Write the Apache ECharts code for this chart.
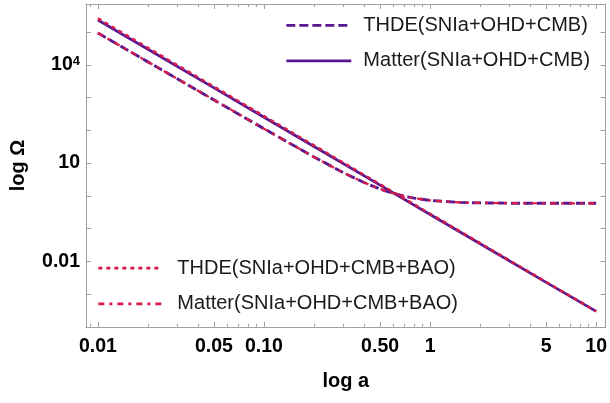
<!DOCTYPE html>
<html><head><meta charset="utf-8">
<script src="https://cdn.jsdelivr.net/npm/echarts@6/dist/echarts.min.js"></script>
<style>html,body{margin:0;padding:0;background:#fff}#c{width:610px;height:403px}</style>
</head><body><div id="c"></div>
<script>
// ---- data ----
const aUpper = [0.01, 0.02, 0.05, 0.1, 0.2, 0.5, 1, 2, 5, 10];
const matterCMB = [234000, 29900, 1970, 251, 32.1, 2.11, 0.269, 0.0344, 0.00228, 0.000295];
const thdeBAO   = [262000, 33000, 2150, 272, 34.5, 2.24, 0.283, 0.0358, 0.00233, 0.000298];
const aLower = [0.01, 0.02, 0.05, 0.1, 0.15, 0.2, 0.3, 0.4, 0.5, 0.6, 0.7, 0.8, 1, 1.5, 2, 3, 5, 10];
const thdeCMB   = [93300, 12300, 850, 112, 34.9, 15.4, 5.1, 2.55, 1.61, 1.19, 0.97, 0.85, 0.725, 0.63, 0.608, 0.596, 0.591, 0.59];
const matterBAO = [93300, 12300, 850, 112, 34.9, 15.4, 5.1, 2.55, 1.61, 1.19, 0.97, 0.85, 0.725, 0.63, 0.608, 0.596, 0.591, 0.59];

const seriesNames = ['THDE(SNIa+OHD+CMB)', 'Matter(SNIa+OHD+CMB)', 'THDE(SNIa+OHD+CMB+BAO)', 'Matter(SNIa+OHD+CMB+BAO)'];

const xMajorTicks = [0.01, 0.05, 0.1, 0.5, 1, 5, 10];
const xMajorLabels = ['0.01', '0.05', '0.10', '0.50', '1', '5', '10'];
const xMinorTicks = [0.009, 0.02, 0.03, 0.04, 0.06, 0.07, 0.08, 0.09, 0.2, 0.3, 0.4, 0.6, 0.7, 0.8, 0.9, 2, 3, 4, 6, 7, 8, 9];
const yTicks = [1e-4, 1e-3, 1e-2, 1e-1, 1, 10, 100, 1e3, 1e4, 1e5];
const yLabelTicks = [0.01, 10, 1e4];
const yLabelText = ['0.01', '10', '10^4'];

const xRange = [0.00848, 11.38];
const yRange = [1e-4, 7.2e5];

// ---- styling ----
const FONT = "'Liberation Sans', Arial, sans-serif";
const FRAME = '#a0a0a0';
const PURPLE = '#5a1890';
const RED = '#d81b48';
const L = Math.log10;

function near(v, arr) {
  for (let i = 0; i < arr.length; i++) if (Math.abs(L(arr[i]) - v) < 1e-6) return i;
  return -1;
}
const toPts = (xs, ys) => xs.map((x, i) => [L(x), L(ys[i])]);

const labelStyle = { fontFamily: FONT, fontSize: 19.5, fontWeight: 'bold', color: '#000' };
const nameStyle = { fontFamily: FONT, fontSize: 20, fontWeight: 'bold', color: '#000' };

function xAxisDef(pos, ticks, len, showLine, showLabel) {
  return {
    type: 'value', position: pos, min: L(xRange[0]), max: L(xRange[1]),
    axisLine: { show: showLine, onZero: false, lineStyle: { color: FRAME, width: 1 } },
    axisTick: { show: true, inside: true, length: len, customValues: ticks.map(L), lineStyle: { color: FRAME, width: 1 } },
    axisLabel: showLabel ? Object.assign({
      show: true, margin: 10, customValues: xMajorTicks.map(L),
      formatter: v => { const i = near(v, xMajorTicks); return i >= 0 ? xMajorLabels[i] : ''; }
    }, labelStyle) : { show: false },
    splitLine: { show: false }
  };
}
function yAxisDef(pos, showLabel) {
  return {
    type: 'value', position: pos, min: L(yRange[0]), max: L(yRange[1]),
    axisLine: { show: true, onZero: false, lineStyle: { color: FRAME, width: 1 } },
    axisTick: { show: true, inside: true, length: 5, customValues: yTicks.map(L), lineStyle: { color: FRAME, width: 1 } },
    axisLabel: showLabel ? Object.assign({
      show: true, margin: 6, customValues: yLabelTicks.map(L),
      formatter: v => {
        const i = near(v, yLabelTicks); if (i < 0) return '';
        const t = yLabelText[i];
        if (t.indexOf('^') >= 0) { const p = t.split('^'); return '{b|' + p[0] + '}{s|' + p[1] + '}'; }
        return '{b|' + t + '}';
      },
      rich: {
        b: { fontFamily: FONT, fontSize: 19.5, fontWeight: 'bold', color: '#000' },
        s: { fontFamily: FONT, fontSize: 13, fontWeight: 'bold', color: '#000', verticalAlign: 'top' }
      }
    }, labelStyle) : { show: false },
    splitLine: { show: false }
  };
}

const xAxes = [
  xAxisDef('bottom', xMajorTicks, 5, true, true),
  xAxisDef('top', xMajorTicks, 5, true, false),
  xAxisDef('bottom', xMinorTicks, 3, false, false),
  xAxisDef('top', xMinorTicks, 3, false, false)
];
Object.assign(xAxes[0], { name: 'log a', nameLocation: 'middle', nameGap: 45, nameTextStyle: nameStyle });
const yAxes = [yAxisDef('left', true), yAxisDef('right', false)];
Object.assign(yAxes[0], { name: 'log Ω', nameLocation: 'middle', nameGap: 58, nameTextStyle: nameStyle });

function lineSeries(name, pts, color, type, width) {
  return {
    name, type: 'line', data: pts, xAxisIndex: 0, yAxisIndex: 0,
    symbol: 'none', showSymbol: false, smooth: false, animation: false,
    lineStyle: { color, width, type }, itemStyle: { color }
  };
}

const legendText = { fontFamily: FONT, fontSize: 20, color: '#1a1a1a', lineHeight: 20 };
const option = {
  animation: false,
  backgroundColor: '#fff',
  grid: { left: 84, top: 4, width: 523.7, height: 322.8, containLabel: false },
  xAxis: xAxes,
  yAxis: yAxes,
  legend: [
    { data: [seriesNames[0], seriesNames[1]], orient: 'vertical', left: 285, top: 15.3, padding: 0,
      itemWidth: 65, itemHeight: 20, itemGap: 15.5, selectedMode: false,
      itemStyle: { opacity: 0, borderWidth: 0 }, lineStyle: { width: 2.7 },
      textStyle: Object.assign({ padding: [0, 0, 0, 7] }, legendText) },
    { data: [seriesNames[2], seriesNames[3]], orient: 'vertical', left: 97, top: 258.2, padding: 0,
      itemWidth: 64, itemHeight: 20, itemGap: 15.6, selectedMode: false,
      itemStyle: { opacity: 0, borderWidth: 0 }, lineStyle: { width: 2.7 },
      textStyle: Object.assign({ padding: [0, 0, 0, 10] }, legendText) }
  ],
  series: [
    lineSeries(seriesNames[0], toPts(aLower, thdeCMB), PURPLE, [9, 4], 2.9),
    lineSeries(seriesNames[1], toPts(aUpper, matterCMB), PURPLE, 'solid', 2.7),
    lineSeries(seriesNames[2], toPts(aUpper, thdeBAO), RED, [4, 4], 2.5),
    lineSeries(seriesNames[3], toPts(aLower, matterBAO), RED, [6, 5, 3, 5], 2.2)
  ]
};
const chart = echarts.init(document.getElementById('c'), null, { renderer: 'canvas' });
chart.setOption(option);
</script>
</body></html>
